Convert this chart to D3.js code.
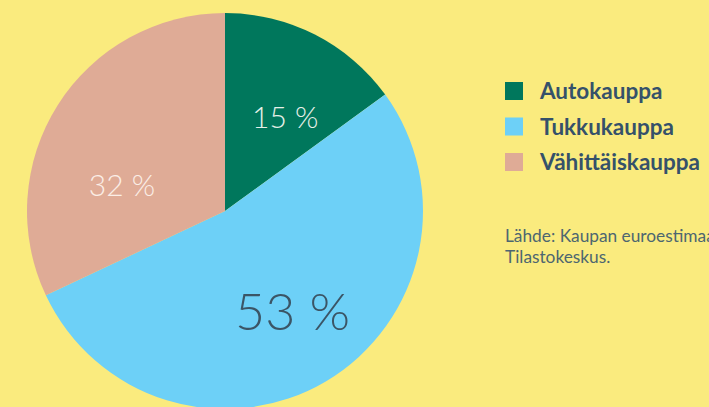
<!DOCTYPE html>
<html>
<head>
<meta charset="utf-8">
<script src="https://cdn.jsdelivr.net/npm/d3@7"></script>
<style>
  html, body { margin: 0; padding: 0; background: #faeb7e; overflow: hidden; }
  svg { display: block; }
</style>
</head>
<body>
<svg id="drawing_region"></svg>
<script>
const categories = ['Autokauppa', 'Tukkukauppa', 'Vähittäiskauppa'];
const shares = [15, 53, 32];
const colors = ['#00775c', '#6dd0f7', '#dfab96'];
const labelColors = ['#e6f0e8', '#3b5566', '#fbeee6'];
const sourceLines = ['Lähde: Kaupan euroestimaatti 2019,', 'Tilastokeskus.'];

const config = {
    parent: '#drawing_region',
    width: 709,
    height: 407,
    cx: 225,
    cy: 211,
    radius: 198
};

const svg = d3.select(config.parent)
    .attr('width', config.width)
    .attr('height', config.height);

svg.append('rect')
    .attr('width', config.width)
    .attr('height', config.height)
    .attr('fill', '#faeb7e');

const data = categories.map((c, i) => ({ name: c, value: shares[i] }));

const pie = d3.pie()
    .value(d => d.value)
    .sort(null);

const arc = d3.arc()
    .innerRadius(0)
    .outerRadius(config.radius);

const labelArc = d3.arc()
    .innerRadius(115)
    .outerRadius(115);

const chart = svg.append('g')
    .attr('transform', `translate(${config.cx}, ${config.cy})`);

const arcs = pie(data);

chart.selectAll('path')
    .data(arcs)
    .join('path')
    .attr('d', arc)
    .attr('fill', (d, i) => colors[i]);

// label nudges to match the original placement
const nudge = [[8, 8.5], [9, 1.5], [-6, 36.6]];
const sizes = [30, 52, 30];

chart.selectAll('text.pct')
    .data(arcs)
    .join('text')
    .attr('class', 'pct')
    .attr('x', (d, i) => labelArc.centroid(d)[0] + nudge[i][0])
    .attr('y', (d, i) => labelArc.centroid(d)[1] + nudge[i][1])
    .attr('dy', '0.35em')
    .attr('text-anchor', 'middle')
    .attr('font-family', 'Lato, "Open Sans", sans-serif')
    .attr('font-weight', 300)
    .attr('font-size', (d, i) => sizes[i])
    .attr('fill', (d, i) => labelColors[i])
    .text(d => `${d.data.value} %`);

// legend
const legend = svg.append('g')
    .attr('transform', 'translate(505, 82)');

const rowH = 35.5;

legend.selectAll('rect')
    .data(categories)
    .join('rect')
    .attr('x', 0)
    .attr('y', (d, i) => i * rowH)
    .attr('width', 18)
    .attr('height', 18)
    .attr('fill', (d, i) => colors[i]);

legend.selectAll('text')
    .data(categories)
    .join('text')
    .attr('x', 35)
    .attr('y', (d, i) => i * rowH + 17)
    .attr('font-family', 'Lato, "Open Sans", sans-serif')
    .attr('font-weight', 700)
    .attr('font-size', 22.5)
    .attr('fill', '#35516a')
    .text(d => d);

// source
svg.append('g')
    .selectAll('text')
    .data(sourceLines)
    .join('text')
    .attr('x', 505)
    .attr('y', (d, i) => 242 + i * 20.5)
    .attr('font-family', 'Lato, "Open Sans", sans-serif')
    .attr('font-weight', 400)
    .attr('font-size', 17.3)
    .attr('fill', '#4d6670')
    .text(d => d);
</script>
</body>
</html>
